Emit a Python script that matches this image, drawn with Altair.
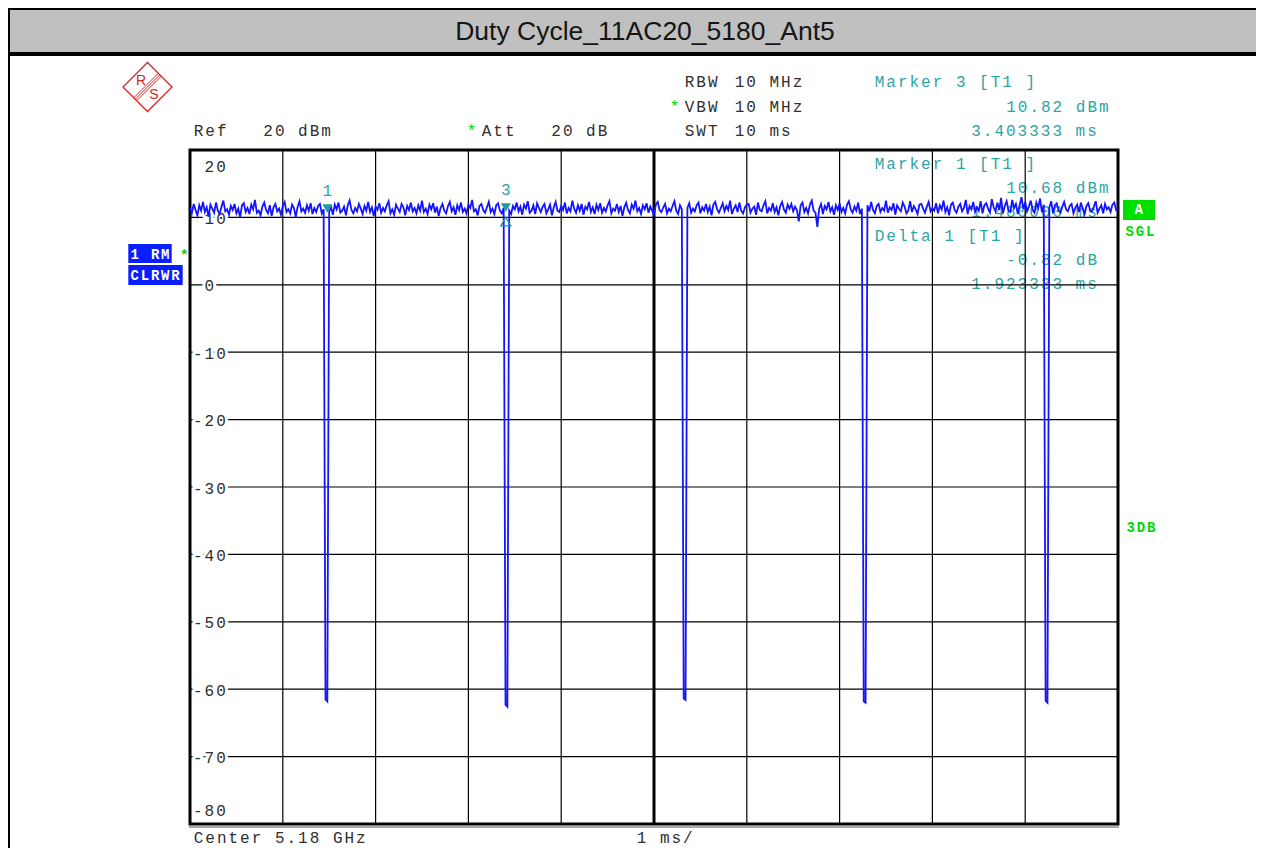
import altair as alt
import pandas as pd

TITLE = "Duty Cycle_11AC20_5180_Ant5"

# ---- trace: 501 sweep points over 10 ms, level in dBm
SWEEP_MS = 10.0
LEVEL_DBM = [
    11.4, 10.6, 12.0, 11.1, 10.3, 11.8, 11.0, 12.3, 10.8, 11.5, 10.1, 11.9, 11.3, 10.7, 12.2, 11.0, 10.5, 11.6, 12.5, 10.9, 11.2, 10.4, 11.7, 11.1, 12.0,
    10.6, 11.3, 10.0, 11.8, 12.1, 10.8, 11.4, 10.5, 11.9, 11.2, 12.6, 10.7, 11.0, 10.3, 11.6, 12.2, 11.1, 10.6, 11.8, 10.2, 11.5, 12.0, 10.9, 11.3, 10.4,
    11.7, 12.3, 10.8, 11.2, 10.6, 11.9, 11.4, 10.1, 11.6, 12.4, 10.9, 11.3, 10.7, 11.8, 11.0, 12.1, 10.5, 11.4, 10.8, 11.7, 12.0, 10.6, 11.2, -61.5, -61.8,
    10.9, 11.5, 10.4, 11.9, 11.2, 12.2, 10.7, 11.0, 11.6, 10.3, 11.8, 12.5, 11.1, 10.6, 11.4, 10.9, 12.0, 11.3, 10.5, 11.7, 11.0, 12.3, 10.8, 11.5, 10.2,
    11.6, 11.1, 12.1, 10.7, 11.4, 10.9, 11.8, 12.4, 10.6, 11.2, 10.4, 11.9, 11.3, 10.8, 12.0, 11.5, 10.3, 11.7, 11.1, 12.2, 10.9, 11.4, 10.6, 11.8, 11.0,
    12.5, 10.8, 11.3, 10.5, 11.9, 11.2, 12.1, 10.7, 11.6, 10.2, 11.4, 12.0, 11.0, 10.6, 11.7, 12.3, 10.9, 11.5, 10.4, 11.8, 11.1, 12.2, 10.8, 11.3, 10.6,
    11.9, 11.4, 12.6, 10.9, 11.2, 10.3, 11.7, 12.0, 11.1, 10.7, 11.5, 12.3, 10.8, 11.3, 10.5, 11.8, 12.1, 11.0, 10.6, 11.4, -62.3, -62.6, 11.0, 10.5, 11.7,
    11.2, 12.2, 10.9, 11.6, 10.4, 11.9, 11.3, 12.4, 10.7, 11.0, 11.8, 10.5, 12.1, 11.4, 10.8, 11.6, 12.0, 10.6, 11.2, 11.9, 10.3, 11.5, 12.3, 11.0, 10.8,
    11.7, 11.1, 12.2, 10.6, 11.4, 10.9, 12.5, 11.3, 10.7, 11.8, 11.0, 12.0, 10.4, 11.6, 11.2, 12.3, 10.8, 11.5, 10.5, 11.9, 11.1, 12.1, 10.7, 11.4, 10.9,
    11.8, 12.4, 10.6, 11.3, 11.0, 12.0, 10.8, 11.7, 10.2, 11.5, 12.2, 11.1, 10.6, 11.9, 11.3, 12.5, 10.9, 11.4, 10.5, 11.8, 11.2, 12.1, 10.7, 11.6, 11.0,
    10.4, 11.9, 12.3, 11.1, 10.8, 11.5, 12.0, 10.6, 11.3, 10.9, 11.7, 12.4, 11.0, 10.5, 11.8, 11.2, -61.4, -61.6, 11.4, 12.1, 10.7, 11.3, 10.9, 11.8, 12.2,
    10.6, 11.5, 11.0, 12.0, 10.8, 11.6, 10.3, 11.9, 12.3, 11.2, 10.7, 11.4, 12.1, 10.9, 11.7, 11.1, 12.5, 10.5, 11.3, 11.8, 10.8, 12.2, 11.0, 10.6, 11.5,
    11.9, 12.0, 10.7, 11.3, 11.6, 10.4, 12.2, 11.1, 10.9, 11.8, 12.4, 10.6, 11.4, 11.0, 12.1, 10.8, 11.5, 10.3, 11.7, 12.3, 11.2, 10.7, 11.9, 11.3, 12.0,
    10.9, 11.6, 11.1, 9.4, 11.8, 12.2, 10.8, 11.4, 10.6, 11.9, 12.5, 11.0, 10.7, 8.6, 11.3, 12.0, 10.5, 11.7, 11.2, 12.3, 10.9, 11.5, 10.4, 11.8, 11.1,
    12.1, 10.8, 11.4, 10.6, 11.9, 12.4, 11.2, 10.7, 11.6, 11.0, 12.2, 10.5, 11.3, -61.8, -62.0, 11.8, 10.9, 12.3, 11.1, 10.6, 11.7, 12.0, 10.8, 11.4, 11.0,
    12.5, 10.7, 11.5, 11.1, 12.1, 10.4, 11.8, 11.3, 10.9, 12.2, 11.6, 10.6, 11.0, 12.4, 10.8, 11.7, 11.2, 10.5, 11.9, 12.0, 11.3, 10.7, 11.6, 12.3, 10.9,
    11.4, 11.0, 12.1, 10.6, 11.8, 11.2, 12.5, 10.8, 11.5, 10.3, 11.9, 12.2, 11.1, 10.7, 11.6, 12.0, 10.9, 11.4, 12.6, 10.5, 11.7, 11.2, 12.3, 10.8, 11.5,
    11.0, 12.4, 10.6, 11.8, 12.1, 11.3, 10.7, 12.7, 11.5, 10.9, 12.2, 11.1, 12.9, 10.6, 11.7, 12.4, 11.0, 10.8, 12.6, 11.4, 12.0, 10.5, 11.8, 13.0, 11.2,
    12.3, 10.9, 11.6, 12.5, 11.1, 10.7, 12.2, 11.4, 12.8, 10.8, 11.9, -61.7, -62.0, 11.5, 12.4, 10.6, 11.8, 12.1, 11.0, 10.7, 11.6, 12.3, 11.2, 10.9, 11.7,
    12.0, 10.6, 11.4, 11.9, 10.8, 12.2, 11.3, 10.5, 11.7, 12.1, 11.0, 10.9, 11.6, 12.4, 10.7, 11.3, 11.8, 10.6, 12.0, 11.2, 11.5, 10.8, 11.9, 12.2, 11.1,
    11.4,
]

GRID_MS = [1, 2, 3, 4, 5, 6, 7, 8, 9]
CENTER_MS = [5]
GRID_DBM = [10, 0, -10, -20, -30, -40, -50, -60, -70]
Y_LABELS = ["20", "10", "0", "-10", "-20", "-30", "-40", "-50", "-60", "-70", "-80"]

MARKER_ID = ["1", "3"]
MARKER_MS = [1.48, 3.403333]
MARKER_DBM = [10.68, 10.82]
DELTA_MS = [3.403333]
DELTA_DBM = [10.0]

# ---- styling / layout
W, H = 928, 674          # plot area
X0, Y0 = 190, 150        # page position of plot origin
MONO = "Liberation Mono"
SANS = "Liberation Sans"
DARK = "#303030"
TEAL = "#2ba5a5"
MARK = "#1e9c9c"
GREEN = "#00d800"
BLUE = "#1414ff"
BOXBLUE = "#0a1eff"
RED = "#d42424"
ADV = 11.6               # character pitch of the instrument font
ADV_B = 10.2

# (text, ink-left x, centre y) in page pixels, colour
MONO_TEXTS = [
    ("Ref   20 dBm", 194, 131, DARK),
    ("*", 467, 131, GREEN),
    ("Att   20 dB", 482, 131, DARK),
    ("RBW", 685, 82, DARK),
    ("10 MHz", 735, 82, DARK),
    ("*", 670, 107, GREEN),
    ("VBW", 685, 107, DARK),
    ("10 MHz", 735, 107, DARK),
    ("SWT", 685, 131, DARK),
    ("10 ms", 735, 131, DARK),
    ("Marker 3 [T1 ]", 875, 82, TEAL),
    ("10.82 dBm", 1006.5, 107, TEAL),
    ("3.403333 ms", 971.5, 131, TEAL),
    ("Marker 1 [T1 ]", 875, 163.5, TEAL),
    ("10.68 dBm", 1006.5, 187.5, TEAL),
    ("1.480000 ms", 971.5, 211.5, TEAL),
    ("Delta 1 [T1 ]", 875, 235.5, TEAL),
    ("-0.82 dB", 1006.5, 259.5, TEAL),
    ("1.923333 ms", 971.5, 283.5, TEAL),
    ("Center 5.18 GHz", 194, 838, DARK),
    ("1 ms/", 637, 838, DARK),
]
BOLD_TEXTS = [
    ("1 RM", 130.5, 254.5, "#ffffff"),
    ("CLRWR", 130.5, 275.5, "#ffffff"),
    ("*", 180, 256, GREEN),
    ("A", 1134.5, 210, "#ffffff"),
    ("SGL", 1125.5, 232, GREEN),
    ("3DB", 1126.5, 528, GREEN),
]


def char_table(items, adv, half):
    rows = []
    for text, px, py, col in items:
        for i, ch in enumerate(text):
            if ch != " ":
                rows.append({"ch": ch, "cx": px - X0 + half + i * adv, "cy": py - Y0, "col": col})
    return pd.DataFrame(rows)


ONE = pd.DataFrame({"k": [0]})


def prect(x1, y1, x2, y2, **kw):
    return alt.Chart(ONE).mark_rect(**kw).encode(
        x=alt.value(x1 - X0), x2=alt.value(x2 - X0), y=alt.value(y1 - Y0), y2=alt.value(y2 - Y0))


def ptext(s, px, py, **kw):
    return alt.Chart(ONE).mark_text(text=s, **kw).encode(x=alt.value(px - X0), y=alt.value(py - Y0))


xs = alt.Scale(domain=[0, SWEEP_MS], nice=False, zero=False)
ys = alt.Scale(domain=[-80, 20], nice=False, zero=False)

n = len(LEVEL_DBM)
trace = pd.DataFrame({"t": [SWEEP_MS * i / (n - 1) for i in range(n)], "lvl": LEVEL_DBM})

layers = []
# title bar and page frame
layers.append(prect(8, 0, 1280, 52, color="#c0c0c0"))
layers.append(prect(8, 0, 1280, 10, color="#000000"))
layers.append(prect(8, 52, 1280, 56, color="#000000"))
layers.append(prect(8, 0, 10, 900, color="#000000"))
layers.append(ptext(TITLE, 645, 32, font=SANS, fontSize=26.5, color="#151515", align="center", baseline="middle"))

# R&S logo
LX, LY, LR = 147.5, 87, 24.5
logo = alt.Chart(ONE)
layers.append(logo.mark_point(shape="M0,-1L1,0L0,1L-1,0Z", size=(2 * LR) ** 2, color=RED, strokeWidth=1.3,
                              opacity=1, filled=False).encode(x=alt.value(LX - X0), y=alt.value(LY - Y0)))
layers.append(logo.mark_point(shape="M0.44,-0.56L-0.56,0.44M0.5,-0.5L-0.5,0.5M0.56,-0.44L-0.44,0.56",
                              size=(2 * LR) ** 2, color=RED, strokeWidth=1, opacity=1, filled=False)
              .encode(x=alt.value(LX - X0), y=alt.value(LY - Y0)))
layers.append(ptext("R", LX - 6.5, LY - 6.5, font=SANS, fontSize=14, color=RED, align="center", baseline="middle"))
layers.append(ptext("S", LX + 6.5, LY + 7.5, font=SANS, fontSize=14, color=RED, align="center", baseline="middle"))

# header / marker info text
mono = char_table(MONO_TEXTS, ADV, 4.5)
layers.append(alt.Chart(mono).mark_text(font=MONO, fontSize=16, align="center", baseline="middle").encode(
    x=alt.X("cx:Q", scale=None, axis=None), y=alt.Y("cy:Q", scale=None, axis=None),
    text="ch:N", color=alt.Color("col:N", scale=None)))

# grid
layers.append(alt.Chart(pd.DataFrame({"t": GRID_MS})).mark_rule(color="#000000", strokeWidth=1.2).encode(
    x=alt.X("t:Q", scale=xs, axis=None)))
layers.append(alt.Chart(pd.DataFrame({"v": GRID_DBM})).mark_rule(color="#000000", strokeWidth=1.2).encode(
    y=alt.Y("v:Q", scale=ys, axis=None)))

# level labels inside the grid
lab_rows = []
for lab in Y_LABELS:
    v = float(lab)
    vp = min(max(v, -77.9), 17.7)
    s = lab if lab.startswith("-") else " " + lab
    for i, ch in enumerate(s):
        if ch != " ":
            lab_rows.append({"ch": ch, "cx": 193.3 - X0 + 4.5 + i * ADV, "vp": vp})
labs = pd.DataFrame(lab_rows)
lab_enc = dict(x=alt.X("cx:Q", scale=None, axis=None), y=alt.Y("vp:Q", scale=ys, axis=None), text="ch:N")
layers.append(alt.Chart(labs).mark_text(font=MONO, fontSize=16, align="center", baseline="middle", dy=1.5,
                                        color="#ffffff", stroke="#ffffff", strokeWidth=6).encode(**lab_enc))
layers.append(alt.Chart(labs).mark_text(font=MONO, fontSize=16, align="center", baseline="middle", dy=1.5,
                                        color=DARK).encode(**lab_enc))

# plot frame and centre line
layers.append(alt.Chart(ONE).mark_rect(fillOpacity=0, stroke="#000000", strokeWidth=3).encode(
    x=alt.value(0), x2=alt.value(W), y=alt.value(0), y2=alt.value(H)))
layers.append(alt.Chart(ONE).mark_rule(color="#555555", strokeWidth=1).encode(
    x=alt.value(-1), x2=alt.value(W + 1), y=alt.value(H + 3)))
layers.append(alt.Chart(pd.DataFrame({"t": CENTER_MS})).mark_rule(color="#000000", strokeWidth=3).encode(
    x=alt.X("t:Q", scale=xs, axis=None)))

# trace
layers.append(alt.Chart(trace).mark_line(color=BLUE, strokeWidth=1.8, clip=True).encode(
    x=alt.X("t:Q", scale=xs, axis=None), y=alt.Y("lvl:Q", scale=ys, axis=None)))

# markers
mk = pd.DataFrame({"id": MARKER_ID, "t": MARKER_MS, "lvl": MARKER_DBM})
mk_enc = dict(x=alt.X("t:Q", scale=xs, axis=None), y=alt.Y("lvl:Q", scale=ys, axis=None))
layers.append(alt.Chart(mk).mark_point(shape="M-1,-1.7L1,-1.7L0,0Z", size=100, filled=True, opacity=1,
                                       color=MARK).encode(**mk_enc))
layers.append(alt.Chart(mk).mark_text(font=MONO, fontSize=16, color=TEAL, dy=-22, align="center",
                                      baseline="middle").encode(text="id:N", **mk_enc))
dl = pd.DataFrame({"t": DELTA_MS, "lvl": DELTA_DBM})
layers.append(alt.Chart(dl).mark_point(shape="M0,0L1,1.7L-1,1.7Z", size=100, filled=False, opacity=1,
                                       color=MARK, strokeWidth=1.3).encode(
    x=alt.X("t:Q", scale=xs, axis=None), y=alt.Y("lvl:Q", scale=ys, axis=None)))

# side status boxes
layers.append(prect(128.3, 244, 171.7, 263, color=BOXBLUE))
layers.append(prect(128.3, 265, 182.7, 285, color=BOXBLUE))
layers.append(prect(1123, 200, 1155, 220, color="#00e000"))
bold = char_table(BOLD_TEXTS, ADV_B, 4.2)
layers.append(alt.Chart(bold).mark_text(font=MONO, fontSize=14, fontWeight="bold", align="center",
                                        baseline="middle").encode(
    x=alt.X("cx:Q", scale=None, axis=None), y=alt.Y("cy:Q", scale=None, axis=None),
    text="ch:N", color=alt.Color("col:N", scale=None)))

chart = alt.layer(*layers).resolve_scale(x="independent", y="independent").properties(
    width=W, height=H,
    padding={"left": X0 - 8, "top": Y0 - 8, "right": 138, "bottom": 24},
    autosize=alt.AutoSizeParams(type="none"),
    background="#ffffff",
).configure_view(strokeWidth=0)

chart.save("out.html", embed_options={"renderer": "svg", "actions": False})
